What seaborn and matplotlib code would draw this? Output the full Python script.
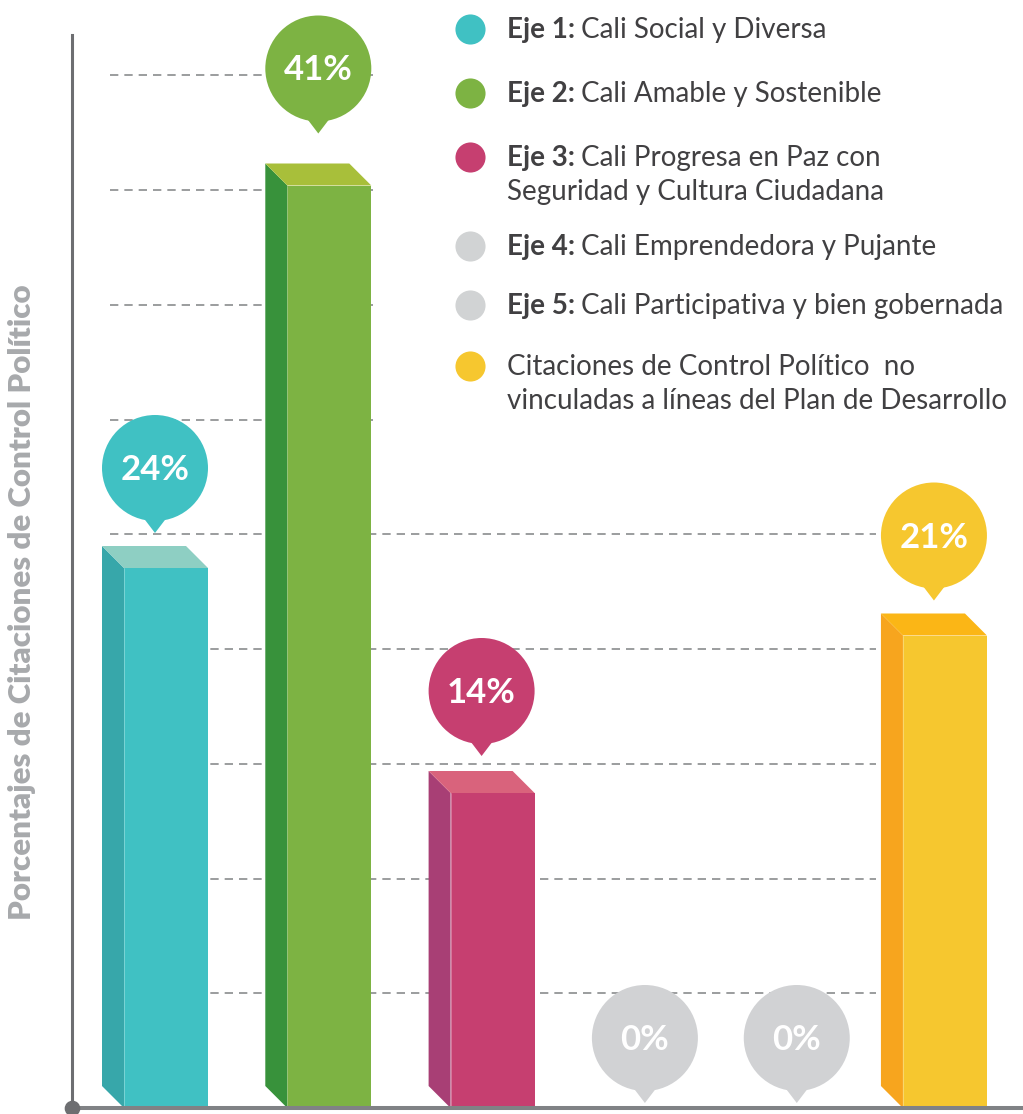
import numpy as np
import pandas as pd
import matplotlib
matplotlib.use("Agg")
import matplotlib.pyplot as plt
import seaborn as sns
from matplotlib.patches import Polygon, Ellipse, Rectangle

# ---------------- data ----------------
categories = ["Eje 1", "Eje 2", "Eje 3", "Eje 4", "Eje 5", "No vinculadas"]
values = [24, 41, 14, 0, 0, 21]
value_labels = ["24%", "41%", "14%", "0%", "0%", "21%"]
legend_bold = ["Eje 1:", "Eje 2:", "Eje 3:", "Eje 4:", "Eje 5:", ""]
legend_line1 = ["Cali Social y Diversa", "Cali Amable y Sostenible",
                "Cali Progresa en Paz con", "Cali Emprendedora y Pujante",
                "Cali Participativa y bien gobernada",
                "Citaciones de Control Político  no"]
legend_line2 = ["", "", "Seguridad y Cultura Ciudadana", "", "",
                "vinculadas a líneas del Plan de Desarrollo"]
ylabel = "Porcentajes de Citaciones de Control Político"

# ---------------- style ----------------
front_colors = ["#40c1c3", "#7db343", "#c63f70", "#d1d2d4", "#d1d2d4", "#f6c72f"]
side_colors = ["#37a7aa", "#38923b", "#a83f75", "#bcbdc0", "#bcbdc0", "#f7a51e"]
top_colors = ["#8ecfc3", "#a8bf3a", "#d9637c", "#e0e1e2", "#e0e1e2", "#fbb616"]
slots = [0, 1, 2, 3, 3.93, 4.77]          # horizontal placement of the columns
bubble_gap = [13, 30, 15, 5, 5, 13]       # px between column top and bubble tip

W, H, DPI = 1023, 1114, 100
sns.set_theme(style="white")
plt.rcParams['font.family'] = ['Lato', 'DejaVu Sans']

fig = plt.figure(figsize=(W / DPI, H / DPI), dpi=DPI)
fig.patch.set_facecolor("white")

AX_L, AX_R, AX_T, AX_B = 72, 1023, 35, 1108
ax = fig.add_axes([AX_L / W, (H - AX_B) / H, (AX_R - AX_L) / W, (AX_B - AX_T) / H])
PX_X, PX_Y, X0_PX = 163.3, 22.5, 166
DEPTH = 22

df = pd.DataFrame({"slot": slots, "pct": values, "cat": categories})
bar_w = 84 / PX_X
native = np.diff(np.unique(slots)).min()
sns.barplot(data=df, x="slot", y="pct", hue="cat", palette=front_colors,
            native_scale=True, dodge=False, width=bar_w / native,
            saturation=1, legend=False, errorbar=None, ax=ax,
            linewidth=0, zorder=3)

ax.set_xlim((AX_L - X0_PX) / PX_X, (AX_R - X0_PX) / PX_X)
ax.set_ylim(0, (AX_B - AX_T) / PX_Y)
ax.set_xticks([])
ax.set_yticks([])
ax.set_xlabel("")
ax.set_facecolor("none")

dx = DEPTH / PX_X
dy = DEPTH / PX_Y

# 3D faces
for s, v, cs, ct in zip(slots, values, side_colors, top_colors):
    if v <= 0:
        continue
    xl, xr = s - bar_w / 2, s + bar_w / 2
    ax.add_patch(Polygon([(xl, 0), (xl, v), (xl - dx, v + dy), (xl - dx, dy)],
                         closed=True, fc=cs, ec="none", zorder=3))
    ax.add_patch(Polygon([(xl, v), (xr, v), (xr - dx, v + dy), (xl - dx, v + dy)],
                         closed=True, fc=ct, ec="none", zorder=3))
    ax.plot([xl, xl], [0, v], color="white", lw=0.6, alpha=0.35, zorder=3.1)

# grid lines
grid_y = [k * 114.75 / PX_Y for k in range(1, 10)]
ax.hlines(grid_y, (110 - X0_PX) / PX_X, (876 - X0_PX) / PX_X, colors="#8a8c8e",
          linestyles=(0, (5, 3.6)), lw=1.2, zorder=1)

# white panel behind legend
ax.add_patch(Rectangle((373 / W, 1 - 445 / H), (W - 373) / W, 445 / H,
                       transform=fig.transFigure, fc="white", ec="none",
                       zorder=2, clip_on=False))

# bubbles
R, TIP = 53, 65
for s, v, lab, c, gap in zip(slots, values, value_labels, front_colors, bubble_gap):
    cx = s - dx / 2
    anchor = (v + dy) if v > 0 else 0
    tip = anchor + gap / PX_Y
    cy = tip + TIP / PX_Y
    ax.add_patch(Ellipse((cx, cy), 2 * R / PX_X, 2 * R / PX_Y, fc=c, ec="none",
                         zorder=4, clip_on=False))
    ax.add_patch(Polygon([(cx - 16 / PX_X, cy - 44 / PX_Y),
                          (cx + 16 / PX_X, cy - 44 / PX_Y), (cx, tip)],
                         closed=True, fc=c, ec="none", zorder=4, clip_on=False))
    ax.text(cx, cy - 2 / PX_Y, lab, ha="center", va="center", color="white",
            fontsize=25, fontweight="bold", zorder=5, clip_on=False)

# axes lines
for side in ["top", "right"]:
    ax.spines[side].set_visible(False)
ax.spines["left"].set_color("#6d6e71")
ax.spines["left"].set_linewidth(2.2)
ax.spines["bottom"].set_color("#808285")
ax.spines["bottom"].set_linewidth(2.9)
ax.spines["left"].set_zorder(6)
ax.spines["bottom"].set_zorder(6)
ax.scatter([ax.get_xlim()[0]], [0], s=105, color="#6d6e71", zorder=7, clip_on=False)

ax.set_ylabel(ylabel, fontsize=22.5, fontweight="heavy", color="#a7a9ac")
ax.yaxis.label.set_va("center")
ax.yaxis.set_label_coords((22 - AX_L) / (AX_R - AX_L), (AX_B - 602) / (AX_B - AX_T))

# legend
leg_y = [29, 93, 157, 246, 305, 366]
FS = 20
TXT = "#414042"
for yc, b, t1, t2, c in zip(leg_y, legend_bold, legend_line1, legend_line2,
                            ["#40c1c3", "#7db343", "#c63f70", "#d1d3d4", "#d1d3d4", "#f6c72f"]):
    ax.scatter([470 / W], [1 - yc / H], s=470, color=c, transform=fig.transFigure,
               clip_on=False, zorder=6, linewidths=0)
    base = 1 - (yc + 9) / H
    if b:
        tb = ax.text(507 / W, base, b, transform=fig.transFigure, fontsize=FS,
                     fontweight="bold", color=TXT, va="baseline", ha="left", zorder=6)
        ax.annotate(t1, xy=(1, 0), xycoords=tb, xytext=(6, 0),
                    textcoords="offset pixels", va="bottom", ha="left",
                    fontsize=FS, color=TXT, zorder=6, annotation_clip=False)
    else:
        ax.text(507 / W, base, t1, transform=fig.transFigure, fontsize=FS,
                color=TXT, va="baseline", ha="left", zorder=6)
    if t2:
        ax.text(507 / W, base - 34 / H, t2, transform=fig.transFigure, fontsize=FS,
                color=TXT, va="baseline", ha="left", zorder=6)

fig.savefig("out.png", dpi=DPI, facecolor="white")
